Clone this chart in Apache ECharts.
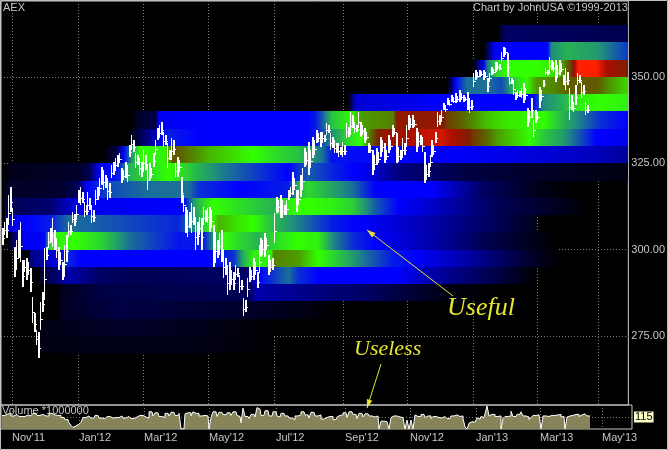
<!DOCTYPE html>
<html><head><meta charset="utf-8">
<style>html,body{margin:0;padding:0;background:#000}#c{width:668px;height:450px}</style>
<script src="https://cdn.jsdelivr.net/npm/echarts@6/dist/echarts.min.js"></script>
</head><body><div id="c"></div>
<script>
const highs=[306.3,308,309.2,315.8,318.1,312.1,300.8,302.8,305.7,308,
297,297,297.6,296.4,294.7,286.3,281.7,276.7,276.2,284.8,
287.7,300.5,300.8,305.1,306.3,309.2,305.7,303.4,300.8,299.3,
296.4,301.3,304.2,308,307.2,310.9,310.3,312.9,317.3,318.1,
316.7,313.8,312.9,316.7,315,312.9,311.5,317.3,318.1,320.7,
323.9,323.1,321.6,320.7,319.3,324.5,325.4,326.5,327.4,328,
323.6,323.1,325.4,324.5,330.3,333.2,331.8,328,327.4,326.5,
325.4,328.9,327.4,324.5,325.1,323.6,328,331.8,335.2,336.1,
337,334.1,333.2,330.9,328.9,332.3,331.8,325.1,326.8,326,
321,315.8,312.3,311.5,310.9,313.5,312.3,309.5,308,309.5,
309.2,312.3,311.5,312.1,312.3,311.5,307.2,305.1,302.8,304.8,
305.7,299.9,297.6,295.6,296.4,294.1,293.5,295.6,294.7,292.7,
291.2,286,285.4,291.8,295,294.1,297.6,296.4,293.5,301.3,
303.4,302.8,304.8,303.4,298.5,297,297.6,310.6,315.2,314.4,
315.8,314.4,312.9,314.4,317.3,318.1,322.5,320.7,317.3,317.3,
321.6,323.6,329.4,328.3,331.2,328.9,332.6,331.8,334.7,333.8,
334.1,334.1,333.2,336.7,336.1,333.8,332.6,331.8,330.9,330.9,
329.7,331.2,330.3,336.7,335.5,339.9,339,337,336.1,339.9,
337,336.1,335.2,334.1,330.9,330.3,328.9,327.4,329.4,328.3,
332.6,331.8,330.9,328.9,333.2,331.8,336.1,335.2,333.8,329.7,
328.9,332.3,330.9,336.1,339,338.1,339,337.5,335.2,334.1,
333.2,332.6,328.3,324.5,325.1,327.4,331.8,330.3,334.1,339.9,
339,340.4,342.5,341.9,343.9,343.3,344.8,344.2,345.4,344.5,
346.2,345.4,344.8,344.2,345.7,343.9,343.3,351.2,352,351.4,
352,351.7,352,351.4,349.7,351.2,352.9,352.3,354.3,354.3,
353.8,357.2,358.7,358.4,357,350,349.7,349.1,345.7,346.2,
346,346.8,348.3,346.8,341,340.4,343.9,337.5,340.4,339.9,
347.1,346.2,349.1,352.6,352,355.8,354.9,354.3,354.9,353.5,
354.9,354,350.6,352.6,351.4,346.8,344.8,342.8,347.7,351.2,
350.6,348.6,347.7,342.8,341.9];
const lows=[301.3,304.2,303.4,307.2,310.9,306.9,292.1,294.1,297.6,296.4,
289.2,293.5,291.2,292.7,287.7,278.8,276.2,272.4,268.6,276.7,
282,285.4,297,300.5,302.2,300.8,299.9,297.6,294.1,295.6,
291.2,292.1,296.4,303.7,304.2,307.7,306.9,308.6,313.5,312.9,
313.5,309.5,310,310.6,311.5,307.7,308,312.9,314.4,315.8,
318.7,317.3,317.9,314.4,315,320.7,321.6,323.1,323.9,325.1,
319.3,320.2,320.7,319.6,326.8,328.9,328.3,323.6,324.5,321.6,
321,322.5,323.1,317.3,320.2,320.7,323.9,327.4,331.8,332.3,
333.2,329.7,330.3,323.6,326,326,327.4,321,321,322.5,
313.5,310.9,304.8,303.7,306.3,304.8,307.2,299.9,301.3,304.2,
299.9,307.2,308,307.7,305.1,306.3,295,296.1,297.6,298.5,
296.4,291.8,292.7,286.9,288.3,289.8,288.3,291.2,292.1,287.4,
288.3,280.8,282,286.3,290.6,291.2,291.2,292.7,288.9,293.2,
297.9,298.5,297.9,299.9,292.7,293.5,294.1,301.9,310.6,310.9,
309.2,309.2,310,310,314.4,315.2,315.8,317.3,310.9,312.9,
315.2,317.3,323.9,324.5,321.6,323.6,326.5,327.4,330.9,331.2,
329.7,330.9,331.2,333.2,333.8,328.9,329.4,328,328,326.8,
327.4,326.8,327.4,332.3,332.6,333.2,335.2,333.8,334.1,335.2,
332.6,333.2,330.9,331.8,328,328,321.6,323.1,324.5,325.1,
326.8,328.3,325.1,326,328,328.9,332.6,333.2,325.1,325.4,
326,326.5,327.4,329.7,334.7,335.2,335.2,335.5,328.3,329.7,
330.3,328.3,319.3,320.2,321,323.9,326.8,327.4,330.9,335.5,
336.1,337,340.4,339.9,341.9,341.6,342.8,342.5,342.5,342.8,
342.8,343.3,342.8,343,340.4,339.6,340.4,347.1,349.1,349.7,
350,350.3,349.1,349.7,345.7,348.6,350.6,350.9,351.4,352,
352,354.3,355.8,356.4,350,347.7,348,344.8,343.3,343.9,
344.2,343.9,342.5,343.3,335.5,337,338.1,332.6,336.7,337.5,
341,343.3,347.1,350.6,350.6,351.2,352,351.4,348.6,349.7,
350.6,351.4,347.7,346.2,347.7,337.5,340.4,339.9,341.9,347.7,
348.3,343.9,344.8,339,339.6];
const volumes=[130,130,130,145,145,125,125,140,140,120,
120,120,135,135,125,125,150,150,130,130,
140,140,125,125,150,150,135,135,130,130,
110,110,90,90,60,35,15,30,45,50,
65,110,110,125,125,105,105,130,130,105,
105,100,100,120,120,105,105,110,110,125,
125,105,105,120,120,100,100,115,115,130,
130,115,115,105,165,165,125,155,155,120,
120,110,150,150,125,160,160,130,130,150,
0,0,145,155,155,125,165,150,150,125,
125,130,130,125,0,110,165,165,120,160,
160,140,135,155,155,130,165,165,130,120,
60,200,120,120,100,140,140,115,205,190,
130,130,175,175,125,125,165,165,125,115,
150,150,125,125,105,105,90,125,125,135,
165,165,135,135,105,160,160,125,125,135,
95,95,110,110,120,120,90,90,115,130,
135,155,155,110,165,165,140,140,100,150,
150,115,145,145,125,125,115,115,125,0,
75,75,70,70,0,110,125,125,115,115,
110,100,0,85,0,85,0,135,120,120,
140,140,110,125,125,100,120,120,110,110,
105,120,120,100,100,125,125,135,135,120,
125,100,20,0,55,70,65,80,105,95,
120,110,145,220,125,140,140,120,120,125,
0,100,120,120,125,170,120,120,140,140,
165,125,125,115,90,110,130,130,135,145,
0,125,125,120,120,130,130,135,135,140,
115,120,0,115,125,130,130,140,140,120,
135,145,145,125,125];
const monthTicks=[5,38.5,71,103.5,137,171.5,204,237,269,300];
const monthLabels=["Nov'11","Jan'12","Mar'12","May'12","Jul'12","Sep'12","Nov'12","Jan'13","Mar'13","May'13"];
const priceTicks=[275,300,325,350];
const binLows=[360,355,350,345,340,335,330,325,320,315,310,305,300,295,290,285,280,275,270];
const row360=[[250,.05],[254,.12],[315,.09]];
const row355=[[242.5,0],[248,.3],[274.5,.3],[276.5,.45],[284,.5],[299,.47],[309,.4],[315,.36]];
const row350=[[237,0],[242.5,.3],[244,.42],[249,.55],[254,.6],[269,.6],[276.5,.62],[281.5,.66],[286.5,.78],[290,1],[299,1],[304,.9],[315,.82]];
const row345=[[223.5,0],[226.5,.12],[228,.3],[234,.42],[244,.42],[251.5,.38],[255,.45],[259,.55],[264,.6],[269,.68],[279,.7],[286.5,.74],[299,.74],[306.5,.68],[315,.63]];
const row340=[[174,0],[178,.25],[199,.27],[224,.3],[267.5,.3],[272.5,.45],[282.5,.5],[291,.58],[301,.6],[315,.58]];
const row335=[[64.5,0],[69,.05],[77.5,.08],[79,.28],[99,.3],[154,.3],[158,.33],[161.5,.4],[166,.52],[174,.58],[181,.68],[197,.7],[199,.85],[221,.85],[224,.78],[232.5,.72],[244,.65],[252.5,.62],[272.5,.6],[282.5,.5],[292.5,.42],[301,.35],[315,.3]];
const row330=[[64,0],[84,.33],[99,.3],[154,.3],[158,.33],[166,.45],[174,.55],[181,.6],[184,.68],[191,.85],[221,.95],[232.5,.85],[237.5,.78],[249,.68],[264,.61],[272.5,.53],[282.5,.47],[292.5,.37],[299,.3],[315,.28]];
const row325=[[50.5,0],[58,.08],[61.5,.3],[66.5,.5],[70,.6],[81.5,.58],[86.5,.75],[91.5,.72],[104,.66],[126.5,.6],[139,.55],[149,.52],[161.5,.42],[166,.32],[199,.3],[249,.28],[299,.22],[315,.18]];
const row320=[[3,.03],[39,.05],[44,.1],[49,.28],[59,.33],[64,.5],[84,.6],[99,.5],[111.5,.43],[124,.38],[144,.3],[149,.35],[154,.4],[166,.34],[182.5,.28],[199,.15],[232.5,.08],[266,.05],[315,.02]];
const row315=[[2,.05],[29,.05],[38,.1],[43,.3],[54,.38],[64,.4],[74,.42],[94,.42],[99,.35],[119,.3],[144,.33],[149,.5],[154,.55],[166,.48],[176,.42],[187.5,.3],[216,.3],[241,.12],[269,.03],[287.5,0]];
const row310=[[1.5,.1],[24,.13],[39,.28],[91.5,.3],[96.5,.47],[101.5,.55],[106.5,.6],[136.5,.5],[139,.55],[149,.6],[155,.6],[166,.58],[176,.54],[187.5,.4],[199,.3],[212.5,.25],[249,.1],[292.5,.01]];
const row305=[[1.5,.2],[6.5,.28],[24,.33],[34,.42],[89,.34],[96.5,.45],[109,.66],[119,.62],[126.5,.6],[134,.53],[166,.33],[199,.25],[249,.1],[269,.03]];
const row300=[[4,.05],[11.5,.28],[21.5,.3],[24,.55],[25.5,.58],[36.5,.6],[49,.55],[64,.42],[89,.32],[101.5,.33],[111.5,.6],[119,.55],[129,.5],[136.5,.55],[149,.6],[159,.58],[166,.45],[176,.35],[187.5,.3],[216,.2],[241,.1],[279,0]];
const row295=[[14,.15],[29,.28],[32,.35],[39,.3],[105.5,.3],[116.5,.35],[121.5,.5],[126.5,.58],[135,.58],[136.5,.7],[149,.68],[159,.6],[166,.55],[182.5,.42],[196,.33],[207.5,.3],[232.5,.2],[266,.05],[281,0]];
const row290=[[19,.05],[34,.2],[49,.12],[65.5,.1],[99,.11],[124,.12],[129,.3],[144,.42],[149,.35],[159,.3],[166,.3],[199,.3],[216,.2],[249,.08],[269,0]];
const row285=[[29,.03],[49,.08],[124,.1],[128,.2],[166,.14],[182.5,.12],[199,.08],[224,.02],[249,0]];
const row280=[[29,.04],[59,.08],[99,.06],[124,.05],[154,.02],[169,0]];
const row275=[[19,.02],[59,.05],[99,.03],[129,.01],[139,0]];
const row270=[[18,.02],[64,.03],[99,.025],[136.5,0]];
const heatRows=[row360,row355,row350,row345,row340,row335,row330,row325,row320,row315,row310,row305,row300,row295,row290,row285,row280,row275,row270];

const ramp=[[0,[0,0,0]],[0.3,[0,0,255]],[0.45,[32,140,125]],[0.6,[50,255,0]],[0.72,[90,105,0]],[0.82,[125,30,0]],[0.9,[170,15,0]],[1,[255,32,0]]];
function heat(v){
  for(let i=1;i<ramp.length;i++){
    if(v<=ramp[i][0]){
      const a=ramp[i-1],b=ramp[i],t=(v-a[0])/(b[0]-a[0]);
      return 'rgb('+a[1].map((c,k)=>Math.round(c+(b[1][k]-c)*t)).join(',')+')';
    }
  }
  return 'rgb(255,32,0)';
}
function gradientStops(row){
  const out=[],x0=row[0][0],span=row[row.length-1][0]-x0;
  for(let i=0;i<row.length-1;i++){
    for(let k=0;k<6;k++){
      const t=k/6;
      out.push({offset:(row[i][0]+(row[i+1][0]-row[i][0])*t-x0)/span,color:heat(row[i][1]+(row[i+1][1]-row[i][1])*t)});
    }
  }
  out.push({offset:1,color:heat(row[row.length-1][1])});
  return out;
}
const chart=echarts.init(document.getElementById('c'),null,{renderer:'canvas'});
const grey='#c4c4c4', font='"Liberation Sans"';
const gridLine={show:true,lineStyle:{color:'#7a7a7a',type:[1,2],width:1}};
function xAxis(gi,showLabel){
  return {type:'value',gridIndex:gi,min:-0.5,max:315,
    axisLine:{show:false},
    axisTick:{show:false,customValues:monthTicks},
    splitLine:gridLine,
    axisLabel:{show:showLabel,customValues:monthTicks,color:grey,fontFamily:font,fontSize:11,align:'left',margin:3,
      formatter:v=>monthLabels[monthTicks.indexOf(v)],hideOverlap:false,showMinLabel:true,showMaxLabel:true}};
}
const yellow='#e6e632';
function arrow(x1,y1,x2,y2){
  const a=Math.atan2(y2-y1,x2-x1),L=9,W=0.32;
  return [
    {type:'line',z:20,silent:true,shape:{x1,y1,x2,y2},style:{stroke:yellow,lineWidth:1}},
    {type:'polygon',z:20,silent:true,shape:{points:[[x2,y2],[x2-L*Math.cos(a-W),y2-L*Math.sin(a-W)],[x2-L*Math.cos(a+W),y2-L*Math.sin(a+W)]]},style:{fill:yellow}}
  ];
}
chart.setOption({
  animation:false,backgroundColor:'#000',
  grid:[
    {left:1,top:1,width:631,height:404,show:true,borderColor:'#c8c8c8',borderWidth:1,backgroundColor:'transparent',containLabel:false},
    {left:1,top:405,width:631,height:24,show:true,borderColor:'#c8c8c8',borderWidth:1,backgroundColor:'transparent',containLabel:false}
  ],
  xAxis:[xAxis(0,false),xAxis(1,true)],
  yAxis:[
    {type:'value',gridIndex:0,position:'right',min:255,max:372,
      axisLine:{show:false},axisTick:{show:false,customValues:priceTicks},
      splitLine:gridLine,
      axisLabel:{customValues:priceTicks,color:grey,fontFamily:font,fontSize:11,margin:3,formatter:v=>v.toFixed(2)}},
    {type:'value',gridIndex:1,position:'right',min:0,max:230,
      axisLine:{show:false},axisTick:{show:false,customValues:[115]},
      splitLine:gridLine,
      axisLabel:{customValues:[115],color:'#000',backgroundColor:'#ffffc8',padding:[0,1,0,1],fontFamily:font,fontSize:11,margin:2,formatter:v=>String(v)}}
  ],
  series:[
    {type:'custom',xAxisIndex:0,yAxisIndex:0,z:2,silent:true,clip:true,
      data:binLows.map((b,i)=>[i,b]),
      encode:{x:[],y:1},
      renderItem(p,api){
        const i=api.value(0),b=api.value(1),row=heatRows[i];
        const a=api.coord([row[0][0],b+5]),c=api.coord([row[row.length-1][0],b]);
        const x=Math.round(a[0]),y=Math.round(a[1]),w=Math.round(c[0])-x,h=Math.round(c[1])-y;
        return {type:'rect',shape:{x,y,width:w,height:h},
          style:{fill:new echarts.graphic.LinearGradient(0,0,1,0,gradientStops(row))}};
      }},
    {type:'custom',xAxisIndex:0,yAxisIndex:0,z:3,silent:true,
      data:highs.map((h,i)=>[i,h,lows[i]]),
      encode:{x:0,y:[1,2]},
      renderItem(p,api){
        const s=api.value(0),hi=api.value(1),lo=api.value(2);
        const top=api.coord([s,hi]),bot=api.coord([s,lo]);
        const dn=api.coord([s,hi-(hi-lo)*0.6]);
        const x=Math.round(top[0]),y=Math.round(top[1]),b=Math.round(bot[1]);
        return {type:'group',children:[
          {type:'rect',shape:{x,y,width:s%2?1:2,height:Math.max(1,b-y)},style:{fill:'#fff'}},
          {type:'rect',shape:{x:x+1,y:Math.round(dn[1]),width:2,height:1},style:{fill:'#fff'}}
        ]};
      }},
    {type:'line',xAxisIndex:1,yAxisIndex:1,z:3,step:'middle',symbol:'none',silent:true,
      data:volumes.map((v,i)=>[i,v]),
      lineStyle:{color:'#fff',width:1},areaStyle:{color:'#87845a',opacity:1}}
  ],
  graphic:[
    {type:'rect',z:30,silent:true,shape:{x:0.5,y:0.5,width:667,height:449},style:{fill:'none',stroke:'#c0c0c0',lineWidth:1}},
    {type:'text',z:1,silent:true,x:3,y:2,style:{text:'AEX',fill:grey,font:'11px '+font}},
    {type:'text',z:10,silent:true,x:473,y:2,style:{text:'Chart by JohnUSA ©1999-2013',fill:grey,font:'11px '+font}},
    {type:'text',z:1,silent:true,x:2,y:405,style:{text:'Volume *1000000',fill:grey,font:'11px '+font}},
    {type:'text',z:20,silent:true,x:447,y:295,style:{text:'Useful',fill:yellow,font:'italic 26px "Liberation Serif"'}},
    {type:'text',z:20,silent:true,x:354,y:338,style:{text:'Useless',fill:yellow,font:'italic 22px "Liberation Serif"'}},
    ...arrow(453,296,367,230),
    ...arrow(381,364,367,408)
  ]
});
</script></body></html>
